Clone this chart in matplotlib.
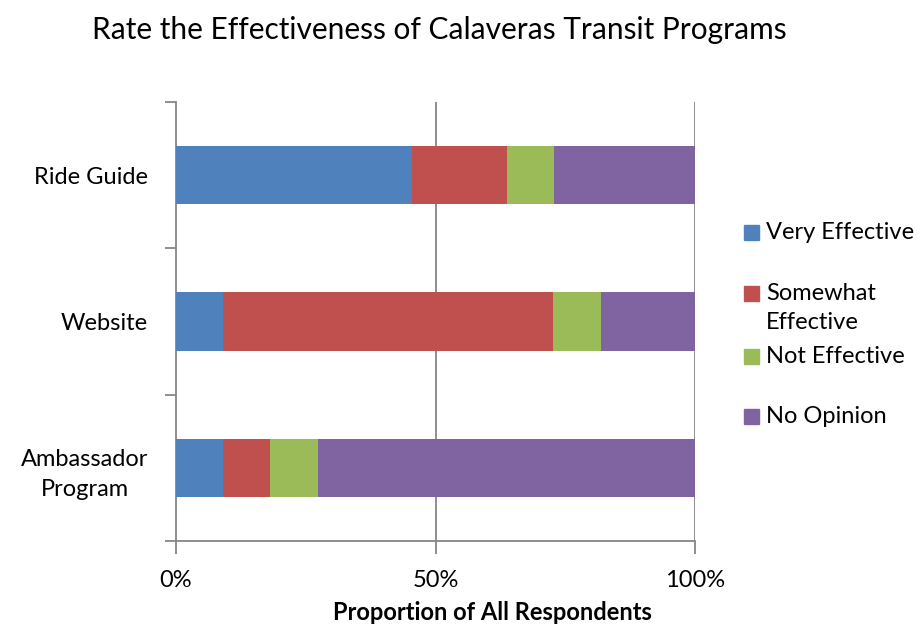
import matplotlib
matplotlib.use('Agg')
import matplotlib.pyplot as plt
from matplotlib.patches import Rectangle

plt.rcParams['font.family'] = ['Lato', 'DejaVu Sans']

# Programs, bottom to top as drawn
programs = ['Ambassador\nProgram', 'Website', 'Ride Guide']

# Share of respondents (%) per program, same order as programs
very_effective = [9.1, 9.1, 45.5]
somewhat_effective = [9.1, 63.6, 18.2]
not_effective = [9.1, 9.1, 9.1]
no_opinion = [72.7, 18.2, 27.2]

series = ['Very Effective', 'Somewhat\nEffective', 'Not Effective', 'No Opinion']
colors = ['#4F81BD', '#C0504D', '#9BBB59', '#8064A2']
x_ticks = [0, 50, 100]
x_labels = ['0%', '50%', '100%']

fig = plt.figure(figsize=(9.22, 6.26), dpi=100)
ax = fig.add_axes([176 / 922, 85 / 626, 519 / 922, 439 / 626])

grey = '#868686'
ypos = list(range(len(programs)))
left = [0.0] * len(programs)
for values, color in zip([very_effective, somewhat_effective, not_effective, no_opinion], colors):
    ax.barh(ypos, values, left=left, height=0.4, color=color, zorder=3)
    left = [l + v for l, v in zip(left, values)]

ax.set_xlim(0, 100)
ax.set_ylim(-0.5, len(programs) - 0.5)

# gridlines
for x in x_ticks[1:]:
    ax.axvline(x, color=grey, lw=1.3, zorder=1)

ax.set_xticks(x_ticks)
ax.set_xticklabels(x_labels, fontsize=17)
ax.set_yticks([y - 0.5 for y in range(len(programs) + 1)])
ax.set_yticklabels([])
ax.set_yticks(ypos, minor=True)
ax.set_yticklabels(programs, minor=True, fontsize=17, multialignment='center', linespacing=1.55)
ax.tick_params(axis='y', which='minor', length=0, pad=20)
ax.tick_params(axis='y', which='major', length=8, width=1.3, color=grey, direction='out')
ax.tick_params(axis='x', length=9, width=1.3, color=grey, direction='out', pad=12)

for s in ['top', 'right']:
    ax.spines[s].set_visible(False)
for s in ['left', 'bottom']:
    ax.spines[s].set_color(grey)
    ax.spines[s].set_linewidth(1.3)

fig.text(492 / 922, 1 - 612 / 626, 'Proportion of All Respondents', ha='center', va='center',
         fontsize=17, fontweight='bold')
fig.text(439 / 922, 1 - 30 / 626, 'Rate the Effectiveness of Calaveras Transit Programs',
         ha='center', va='center', fontsize=21.5)

# legend drawn to match spacing of original
legend_y = [232, 293, 356, 416]
for label, color, y in zip(series, colors, legend_y):
    fig.patches.append(Rectangle((744 / 922, 1 - (y + 8) / 626), 15 / 922, 15 / 626,
                                 transform=fig.transFigure, color=color, figure=fig))
    fig.text(766 / 922, 1 - (y - 10) / 626, label, ha='left', va='top', fontsize=17,
             linespacing=1.5)

fig.savefig('out.png', dpi=100)
